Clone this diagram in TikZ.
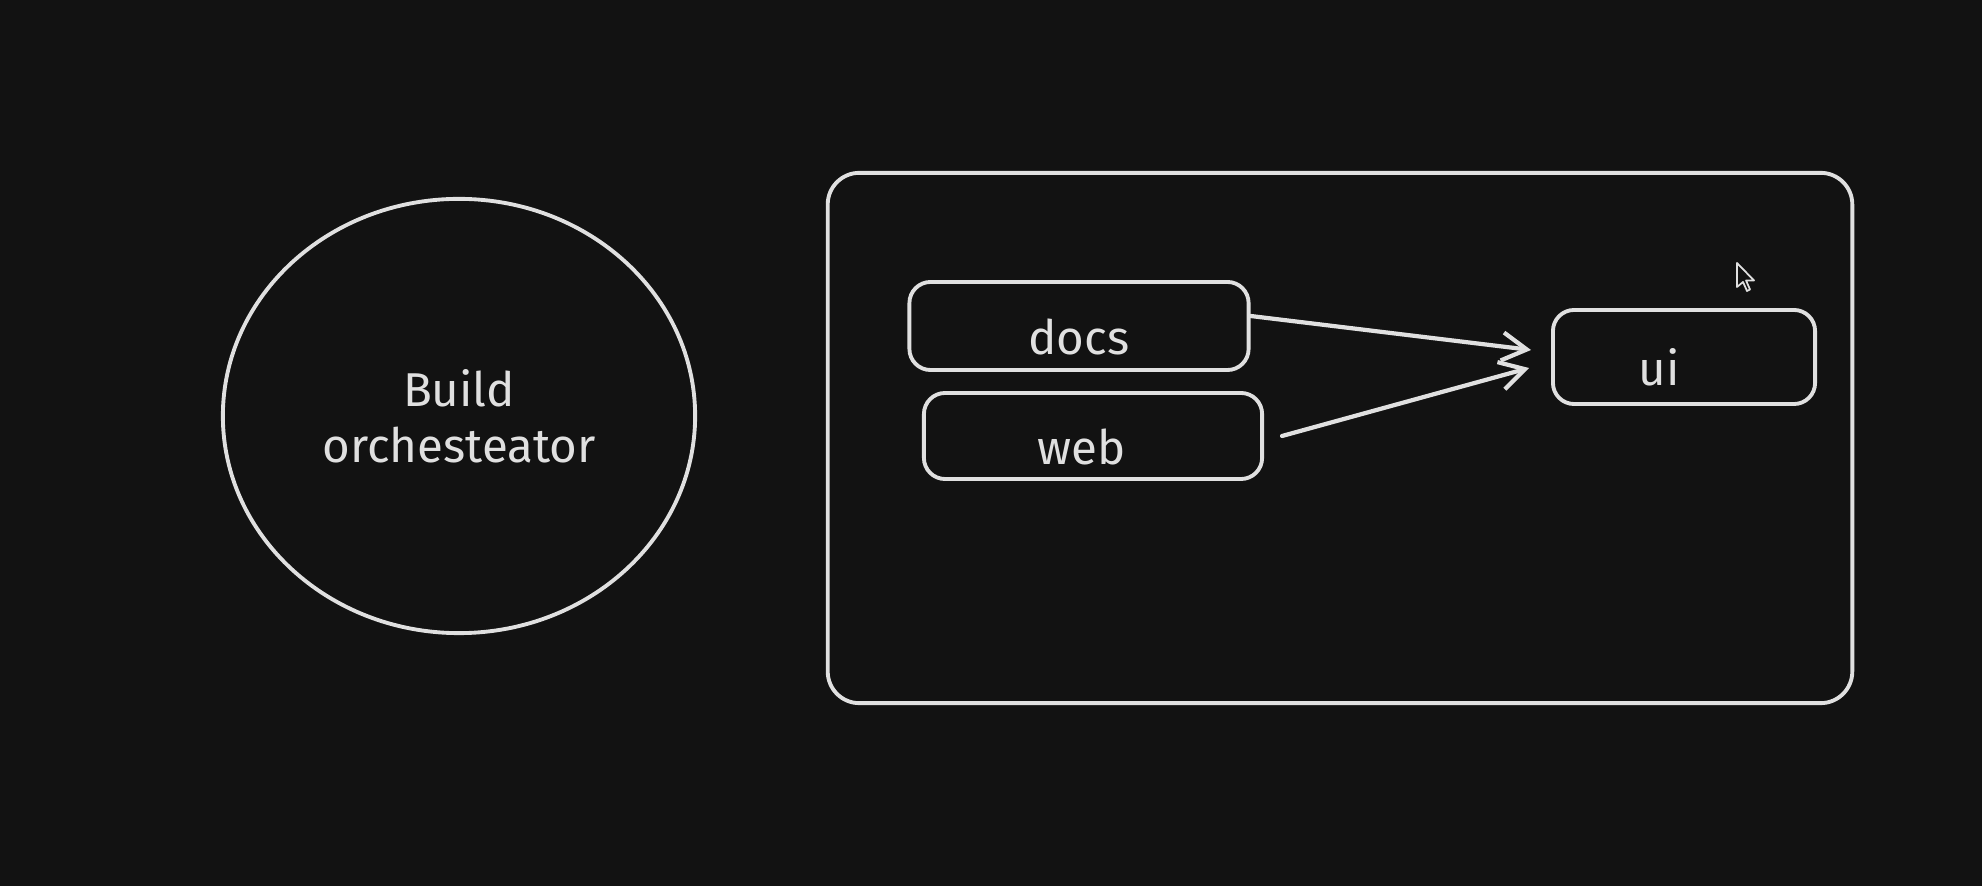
\documentclass[tikz,border=0pt]{standalone}
\usepackage{fontspec}
\setmainfont{Fira Sans}
\usetikzlibrary{positioning,arrows.meta,shapes.geometric}
\definecolor{bgdark}{HTML}{121212}
\definecolor{inkgray}{HTML}{E0E0E0}
\tikzset{
  sketch/.style={draw=inkgray,line width=1.1pt},
  lbl/.style={text=inkgray,font=\fontsize{13.5}{16}\selectfont},
  pkg/.style={sketch,lbl,rectangle,rounded corners=6pt,inner sep=0pt,
    text height=16pt,text depth=0pt},
  orch/.style={sketch,lbl,ellipse,align=center,inner sep=0pt},
  frame/.style={sketch,rectangle,rounded corners=9pt,inner sep=0pt},
  flow/.style={draw=inkgray,line width=1.2pt,line cap=round,
    -{Straight Barb[length=7pt,width=8pt,line width=1.2pt]}},
}
\begin{document}
\begin{tikzpicture}[x=0.01cm,y=-0.01cm]
  \fill[bgdark] (0,0) rectangle (1982,886);
  \useasboundingbox (0,0) rectangle (1982,886);
  % orchestrator bubble
  \node[orch,minimum width=4.72cm,minimum height=4.34cm] (build) at (459,416)
    {Build\\orchesteator};
  % workspace frame
  \node[frame,minimum width=10.24cm,minimum height=5.30cm] (ws) at (1340,438) {};
  \node[pkg,minimum width=3.39cm,minimum height=0.88cm] (docs) at (1079,326) {docs};
  \node[pkg,minimum width=3.38cm,minimum height=0.86cm] (web) at (1093,436) {web\kern0.22cm};
  \node[pkg,minimum width=2.62cm,minimum height=0.94cm] (ui) at (1684,357) {ui\kern0.5cm};
  \draw[flow] ([yshift=0.1cm]docs.east) -- ([xshift=-0.2cm,yshift=0.07cm]ui.west);
  \draw[flow] ([xshift=0.18cm]web.east) -- ([xshift=-0.22cm,yshift=-0.11cm]ui.west);
  % mouse pointer
  \draw[inkgray,fill=bgdark,line width=0.5pt,line join=round]
    (1737,263) -- ++(0,24) -- ++(6,-5) -- ++(4,9) -- ++(3,-1.5) -- ++(-4,-9)
    -- ++(8,0) -- cycle;
\end{tikzpicture}
\end{document}
